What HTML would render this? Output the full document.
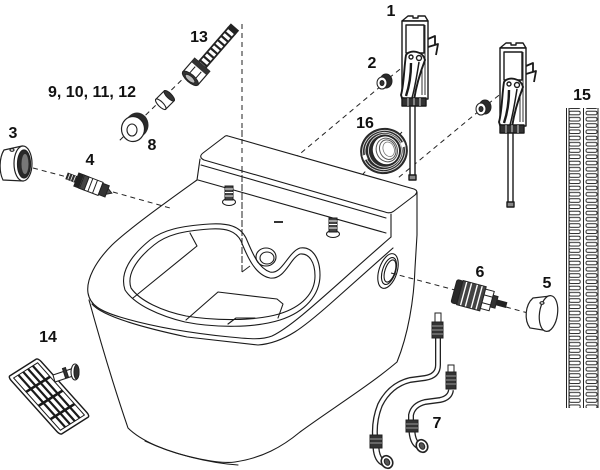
<!DOCTYPE html>
<html><head><meta charset="utf-8"><style>
html,body{margin:0;padding:0;background:#fff;}
svg{display:block;}
text{font-family:"Liberation Sans",Arial,sans-serif;font-weight:bold;font-size:16px;fill:#111;}
</style></head><body>
<svg width="600" height="470" viewBox="0 0 600 470" xmlns="http://www.w3.org/2000/svg">
<defs>
<pattern id="slotL" patternUnits="userSpaceOnUse" x="567" y="110" width="16" height="6.25">
<rect x="2.2" y="1.2" width="11" height="3.6" rx="1.5" fill="none" stroke="#222" stroke-width="0.9"/>
</pattern>
<pattern id="slotR" patternUnits="userSpaceOnUse" x="584" y="110" width="16" height="6.25">
<rect x="2" y="1.2" width="11" height="3.6" rx="1.5" fill="none" stroke="#222" stroke-width="0.9"/>
</pattern>
</defs>

<!-- dashed lines -->
<g fill="none" stroke="#222" stroke-width="1" stroke-dasharray="5 4">
<path d="M242,24 L242,272"/>
<path d="M233,30 L118,142"/>
<path d="M33,168 L67,177"/>
<path d="M113,192 L170,208"/>
<path d="M381,86 L295,158"/>
<path d="M389,78 L404,66"/>
<path d="M479,111 L398,178"/>
<path d="M488,104 L503,92"/>
<path d="M402,132 L363,174"/>
<path d="M391,273 L455,290"/>
<path d="M506,307 L528,313"/>
</g>
<path d="M242,272 L250,266" stroke="#222" stroke-width="1" fill="none"/>

<!-- toilet -->
<g fill="none" stroke="#1a1a1a" stroke-width="1.1" stroke-linejoin="round" stroke-linecap="round">
<path d="M228,136 L414,189 Q419,191 415,195 L394,211 Q390,214 385,212 L204,160 Q198,157 203,153 L224,137 Q226,135 228,136 Z" fill="#fff"/>
<path d="M201,165 L386,218"/>
<path d="M198,180 L386,233"/>
<path d="M200,159 L197,180"/>
<path d="M391,214 L391,237"/>
<path d="M197,180 C165,203 130,228 112,245 C95,262 86,280 88,293 C90,305 100,311 120,317 C150,326 190,333 230,337 C250,339 262,340 272,336 C295,325 330,290 391,237"/>
<path d="M92,304 C102,316 140,327 187,337 L258,345 C285,343 305,326 330,304 L393,248"/>
<path d="M89,300 C100,340 115,390 128,428 C140,440 165,452 200,459 C215,462 228,463 235,462 C262,458 282,447 300,432 C330,410 370,385 397,362 C408,335 414,300 415,268 L417,235 L417,192"/>
<path d="M145,441 C175,455 210,463 238,465"/>
<!-- seat opening -->
<path d="M125,290 C120,275 128,258 150,240 C163,230 180,226 210,224 C228,223 240,226 246,238 C252,252 258,268 270,272 C282,275 288,252 300,248 C312,246 320,258 320,275 C320,295 305,312 280,320 C255,328 215,328 185,322 C160,316 135,305 125,290 Z"/>
<path d="M131,288 C127,276 134,261 154,245 C166,235 182,231 210,229 C226,228 236,231 241,241 C247,256 255,275 270,278 C285,280 290,258 300,254 C309,253 315,262 315,276 C315,293 302,307 279,314 C255,321 216,321 186,316 C162,311 140,301 131,288 Z"/>
<path d="M190,233 L197,246 L133,298"/>
<path d="M186,320 L218,292 L277,299 L283,304 L278,318"/>
<path d="M228,324 L236,318 L255,318"/>
<ellipse cx="266" cy="257" rx="10" ry="9"/>
<ellipse cx="267" cy="258" rx="7" ry="6"/>
<!-- side hole -->
<ellipse cx="388" cy="271" rx="9" ry="18" transform="rotate(18 388 271)"/>
<ellipse cx="389" cy="271" rx="6.5" ry="14" transform="rotate(18 389 271)"/>
<ellipse cx="390" cy="271" rx="5" ry="11.5" transform="rotate(18 390 271)"/>
</g>
<!-- dashed over box -->
<path d="M242,130 L242,272" stroke="#222" stroke-width="1" stroke-dasharray="5 4" fill="none"/>
<!-- screws -->
<g stroke="#1a1a1a" stroke-width="1">
<ellipse cx="229" cy="202" rx="6.5" ry="3.5" fill="#fff"/>
<rect x="225" y="186" width="8" height="14" fill="#444"/>
<path d="M225,189 H233 M225,192.5 H233 M225,196 H233" stroke="#fff"/>
<ellipse cx="333" cy="234" rx="6.5" ry="3.5" fill="#fff"/>
<rect x="329" y="218" width="8" height="14" fill="#444"/>
<path d="M329,221 H337 M329,224.5 H337 M329,228 H337" stroke="#fff"/>
</g>
<rect x="274" y="221" width="9" height="2" fill="#333"/>

<!-- item 13 hose -->
<g transform="translate(235,27) rotate(131)">
<line x1="4" y1="0" x2="52" y2="0" stroke="#222" stroke-width="11"/>
<line x1="6" y1="0" x2="50" y2="0" stroke="#fff" stroke-width="7.5" stroke-dasharray="3.2 2.2"/>
<rect x="0" y="-5.5" width="6" height="11" fill="#222"/>
<rect x="50" y="-10" width="18" height="20" fill="#fff" stroke="#222" stroke-width="1.2"/>
<rect x="50" y="-10" width="5" height="20" fill="#333"/>
<path d="M56,-4 H68 M56,4 H68" stroke="#222" stroke-width="1"/>
<ellipse cx="68" cy="0" rx="4" ry="10" fill="#333" stroke="#222"/>
<ellipse cx="68.5" cy="0" rx="2.5" ry="6" fill="#bbb" stroke="#222" stroke-width="0.8"/>
</g>

<!-- cap 9-12 -->
<g transform="translate(165,100) rotate(135)">
<rect x="-6" y="-7" width="12" height="14" fill="#fff" stroke="#222" stroke-width="1.1"/>
<ellipse cx="-6" cy="0" rx="2.5" ry="7" fill="#333" stroke="#222"/>
<ellipse cx="6" cy="0" rx="2.5" ry="7" fill="#fff" stroke="#222" stroke-width="1.1"/>
</g>

<!-- washer 8 -->
<ellipse cx="137" cy="125" rx="11.5" ry="12.5" fill="#2a2a2a"/>
<ellipse cx="133" cy="129" rx="11.5" ry="12.5" fill="#fff" stroke="#222" stroke-width="1.2"/>
<ellipse cx="132" cy="130" rx="5" ry="6" fill="#fff" stroke="#222" stroke-width="1.1"/>

<!-- item 3 ring -->
<g stroke="#222" stroke-width="1.2">
<path d="M4,150 L22,146 L23,181 L3,180 C-1,172 -1,158 4,150 Z" fill="#fff"/>
<ellipse cx="23" cy="163.5" rx="9" ry="17.5" fill="#fff"/>
<ellipse cx="24" cy="164" rx="6.5" ry="14" fill="#2a2a2a"/>
<ellipse cx="25" cy="164" rx="3.5" ry="10" fill="#777" stroke="none"/>
<ellipse cx="12" cy="150" rx="2" ry="1.3" fill="#fff"/>
</g>

<!-- item 4 -->
<g transform="translate(67,176) rotate(21)" stroke="#222" stroke-width="1">
<rect x="0" y="-3" width="10" height="6" fill="#333"/>
<path d="M2,-3 V3 M5,-3 V3 M8,-3 V3" stroke="#fff" stroke-width="0.8"/>
<rect x="10" y="-7" width="5" height="14" fill="#222"/>
<rect x="15" y="-7" width="21" height="14" fill="#fff"/>
<rect x="16" y="-7" width="5" height="14" fill="#444"/>
<path d="M25,-7 V7 M30,-7 V7"/>
<rect x="36" y="-6" width="7" height="12" fill="#333"/>
<path d="M43,-3 L48,0 L43,3 Z" fill="#555"/>
</g>

<!-- item 6 -->
<g transform="translate(454,291) rotate(15)" stroke="#222" stroke-width="1">
<rect x="0" y="-12" width="6" height="24" rx="2" fill="#2a2a2a"/>
<rect x="6" y="-12.5" width="24" height="25" fill="#444"/>
<path d="M10,-12 V12 M15,-12 V12 M21,-12 V12 M26,-12 V12" stroke="#fff" stroke-width="1.4"/>
<rect x="30" y="-10" width="9" height="20" fill="#fff"/>
<path d="M30,-4 H39 M30,4 H39"/>
<rect x="39" y="-6" width="5" height="12" fill="#333"/>
<rect x="44" y="-2.5" width="10" height="5" fill="#222"/>
</g>

<!-- item 5 knob -->
<g stroke="#222" stroke-width="1.2">
<path d="M533,298 L550,296 L549,331 L530,328 C524,320 525,305 533,298 Z" fill="#fff"/>
<ellipse cx="548.5" cy="313.5" rx="9" ry="18" transform="rotate(8 548.5 313.5)" fill="#fff"/>
<ellipse cx="542" cy="303" rx="2" ry="1.3" fill="#fff"/>
</g>

<!-- item 14 -->
<g transform="matrix(30,-19,52,58,8,377)" fill="none" stroke="#1a1a1a">
<rect x="0" y="0" width="1" height="1" rx="0.06" fill="#fff" stroke-width="1.4" vector-effect="non-scaling-stroke"/>
<rect x="0.1" y="0.05" width="0.8" height="0.9" stroke-width="1" vector-effect="non-scaling-stroke"/>
<path d="M0.1,0.29 H0.9 M0.1,0.53 H0.9 M0.1,0.76 H0.9" stroke-width="2.6" vector-effect="non-scaling-stroke"/>
<path d="M0.26,0.05 V0.95 M0.42,0.05 V0.95 M0.58,0.05 V0.95 M0.74,0.05 V0.95" stroke-width="2.2" vector-effect="non-scaling-stroke"/>
</g>
<g stroke="#222" stroke-width="1.1">
<path d="M53,375 L71,369 L73,376 L55,382 Z" fill="#fff"/>
<rect x="64" y="368" width="3" height="10" fill="#333" transform="rotate(-18 65 373)"/>
<ellipse cx="75" cy="372" rx="4" ry="8" fill="#fff"/>
<ellipse cx="76.5" cy="372" rx="2.5" ry="7" fill="#333"/>
</g>

<!-- item 16 ring -->
<g transform="translate(384,151) rotate(-20)">
<ellipse rx="24" ry="23" fill="#2a2a2a"/>
<ellipse rx="21.5" ry="20.5" fill="none" stroke="#ddd" stroke-width="0.9"/>
<ellipse rx="19" ry="18.5" fill="none" stroke="#ddd" stroke-width="0.9"/>
<ellipse cx="1" rx="16.5" ry="16.5" fill="none" stroke="#ddd" stroke-width="0.9"/>
<ellipse cx="2" rx="13.5" ry="14.5" fill="#fff" stroke="#222"/>
<ellipse cx="3" rx="10.5" ry="12" fill="none" stroke="#555" stroke-width="1"/>
<ellipse cx="4" rx="8" ry="10" fill="none" stroke="#555" stroke-width="1"/>
<ellipse cx="5" rx="5.5" ry="7.5" fill="none" stroke="#777" stroke-width="0.8"/>
<rect x="-22" y="-3" width="4" height="5" fill="#fff"/>
<rect x="18" y="-2" width="4" height="5" fill="#fff"/>
</g>

<!-- bracket item 1 (two copies) -->
<g id="br" transform="translate(402,15)" stroke="#1a1a1a" stroke-width="1.4" stroke-linejoin="round">
<path d="M0,6 L6,1 L11,1 L11,3 L16,3 L16,1 L23,1 L26,6 Z" fill="#fff"/>
<rect x="0" y="6" width="26" height="78" fill="#fff"/>
<rect x="4" y="10" width="18" height="28" fill="#fff"/>
<path d="M6,38 V80 M20,38 V80 M23,10 V80" fill="none" stroke-width="0.9"/>
<path d="M4,40 C2,52 2,70 -1,80 L0,83 L12,85 C14,72 18,58 23,45 C21,36 8,34 4,40 Z" fill="#fff" stroke-width="1.9"/>
<path d="M9,48 C9,60 7,72 4,81" fill="none" stroke-width="2.4"/>
<path d="M17,47 C15,60 13,72 10,83" fill="none" stroke-width="1.5"/>
<circle cx="9" cy="42" r="2" fill="#fff"/>
<circle cx="17" cy="43" r="2.5" fill="#fff"/>
<rect x="0" y="83" width="24" height="8" fill="#333"/>
<path d="M6,83 V91 M12,83 V91 M18,83 V91" stroke="#fff" stroke-width="0.8"/>
<rect x="8" y="91" width="5" height="70" fill="#fff"/>
<rect x="7" y="160" width="7" height="5" fill="#888"/>
<path d="M26,24 L33,21 L33,30 M26,32 L36,29 L34,40" fill="none" stroke-width="1.8"/>
</g>
<use href="#br" transform="translate(98,27)"/>

<!-- nuts item 2 -->
<g stroke="#222" stroke-width="1">
<ellipse cx="386" cy="81" rx="6" ry="7" fill="#2a2a2a"/>
<ellipse cx="382" cy="83" rx="5" ry="6" fill="#fff"/>
<ellipse cx="382" cy="83" rx="2" ry="2.5" fill="#333"/>
<ellipse cx="485" cy="107" rx="6" ry="7" fill="#2a2a2a"/>
<ellipse cx="481" cy="109" rx="5" ry="6" fill="#fff"/>
<ellipse cx="481" cy="109" rx="2" ry="2.5" fill="#333"/>
</g>

<!-- item 15 strip -->
<rect x="567" y="108" width="16" height="300" fill="url(#slotL)" stroke="none"/>
<rect x="584" y="108" width="16" height="300" fill="url(#slotR)" stroke="none"/>
<g stroke="#222" stroke-width="1" fill="none">
<path d="M566.5,108 V408 M569,108 V408 M583.5,108 V408 M598,108 V408"/>
</g>

<!-- hoses item 7 -->
<g fill="none" stroke-linecap="butt" stroke-linejoin="round">
<path d="M438,338 L438,365 Q438,376 425,378 L410,380 Q390,385 380,405 Q374,420 375,436" stroke="#222" stroke-width="6"/>
<path d="M438,338 L438,365 Q438,376 425,378 L410,380 Q390,385 380,405 Q374,420 375,436" stroke="#fff" stroke-width="3.4"/>
<path d="M451,390 Q450,398 440,400 L425,402 Q413,405 411,415 L411,421" stroke="#222" stroke-width="6"/>
<path d="M451,390 Q450,398 440,400 L425,402 Q413,405 411,415 L411,421" stroke="#fff" stroke-width="3.4"/>
<path d="M376,448 Q377,460 384,463" stroke="#222" stroke-width="7"/>
<path d="M376,448 Q377,460 384,463" stroke="#fff" stroke-width="4.4"/>
<path d="M412,432 Q413,443 419,446" stroke="#222" stroke-width="7"/>
<path d="M412,432 Q413,443 419,446" stroke="#fff" stroke-width="4.4"/>
</g>
<g stroke="#222" stroke-width="1">
<rect x="435" y="313" width="6" height="9" fill="#fff"/>
<rect x="432" y="322" width="11" height="16" fill="#333"/>
<path d="M432,326 H443 M432,330 H443 M432,334 H443" stroke="#bbb" stroke-width="0.8"/>
<rect x="448" y="365" width="6" height="7" fill="#fff"/>
<rect x="446" y="372" width="10" height="17" fill="#333"/>
<path d="M446,376 H456 M446,380 H456 M446,384 H456" stroke="#bbb" stroke-width="0.8"/>
<rect x="370" y="435" width="12" height="13" fill="#333"/>
<path d="M370,439 H382 M370,443 H382" stroke="#bbb" stroke-width="0.8"/>
<rect x="406" y="420" width="12" height="12" fill="#333"/>
<path d="M406,424 H418 M406,428 H418" stroke="#bbb" stroke-width="0.8"/>
<ellipse cx="387" cy="462" rx="5.5" ry="6.5" transform="rotate(-30 387 462)" fill="#fff" stroke-width="1.6"/>
<ellipse cx="387" cy="462" rx="2.5" ry="3.5" transform="rotate(-30 387 462)" fill="#555"/>
<ellipse cx="422" cy="446" rx="5.5" ry="6.5" transform="rotate(-30 422 446)" fill="#fff" stroke-width="1.6"/>
<ellipse cx="422" cy="446" rx="2.5" ry="3.5" transform="rotate(-30 422 446)" fill="#555"/>
</g>

<!-- labels -->
<text x="391" y="16" text-anchor="middle">1</text>
<text x="372" y="68" text-anchor="middle">2</text>
<text x="13" y="138" text-anchor="middle">3</text>
<text x="90" y="165" text-anchor="middle">4</text>
<text x="547" y="288" text-anchor="middle">5</text>
<text x="480" y="277" text-anchor="middle">6</text>
<text x="437" y="428" text-anchor="middle">7</text>
<text x="152" y="150" text-anchor="middle">8</text>
<text x="48" y="97">9, 10, 11, 12</text>
<text x="199" y="42" text-anchor="middle">13</text>
<text x="48" y="342" text-anchor="middle">14</text>
<text x="582" y="100" text-anchor="middle">15</text>
<text x="365" y="128" text-anchor="middle">16</text>
</svg>
</body></html>
